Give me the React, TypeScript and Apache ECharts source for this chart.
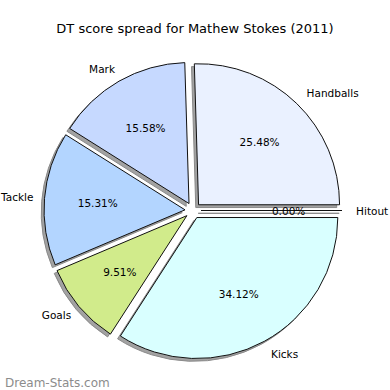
import React, { useEffect, useRef } from "react";
import * as echarts from "echarts";

const titleText = "DT score spread for Mathew Stokes (2011)";
const watermark = "Dream-Stats.com";
const categories = ["Hitout", "Handballs", "Mark", "Tackle", "Goals", "Kicks"];
const values = [0, 25.48, 15.58, 15.31, 9.51, 34.12];
const colors = ["#ffffff", "#eaf1ff", "#c6d9ff", "#b3d5ff", "#d1eb8b", "#d9ffff"];

const FONT = "DejaVu Sans";
const CX = 193;
const CY = 210.5;
const R = 141;
const EXPLODE = 8;

export default function App() {
  const ref = useRef<HTMLDivElement>(null);
  useEffect(() => {
    const chart = echarts.init(ref.current!, null, { renderer: "svg" });
    let acc = 0;
    const leftSide = values.map((v) => {
      const mid = ((acc + v / 2) / 100) * 2 * Math.PI;
      acc += v;
      return Math.cos(mid) < 0;
    });
    const shadowData = categories.map((name, i) => ({
      name,
      value: values[i],
      selected: true,
      itemStyle: { color: "#a2a2a2", borderColor: "#8a8a8a", borderWidth: 1 },
      select: { itemStyle: { color: "#a2a2a2", borderColor: "#8a8a8a", borderWidth: 1 } },
    }));
    const mainData = categories.map((name, i) => ({
      name,
      value: values[i],
      selected: true,
      label: { distanceToLabelLine: leftSide[i] ? -3 : 0 },
      itemStyle: { color: colors[i], borderColor: "#111", borderWidth: 1 },
      select: { itemStyle: { color: colors[i], borderColor: "#111", borderWidth: 1 } },
    }));
    const pctData = categories.map((name, i) => ({
      name,
      value: values[i],
      selected: true,
      itemStyle: { color: "rgba(0,0,0,0)", borderWidth: 0 },
      select: { itemStyle: { color: "rgba(0,0,0,0)", borderWidth: 0 } },
    }));
    const common = {
      type: "pie" as const,
      startAngle: 0,
      clockwise: false,
      selectedMode: "multiple" as const,
      selectedOffset: EXPLODE,
      avoidLabelOverlap: false,
      silent: true,
      emphasis: { disabled: true },
    };
    chart.setOption({
      animation: false,
      title: [
        {
          text: titleText,
          left: "center",
          top: 17,
          textStyle: { fontFamily: FONT, fontSize: 13, fontWeight: "normal", color: "#000" },
        },
        {
          text: watermark,
          left: 0,
          top: 372,
          textStyle: { fontFamily: FONT, fontSize: 12, fontWeight: "normal", color: "#8c8c8c" },
        },
      ],
      series: [
        {
          ...common,
          center: [CX - 2.8, CY + 2.8],
          radius: [0, R],
          data: shadowData,
          label: { show: false },
          labelLine: { show: false },
        },
        {
          ...common,
          center: [CX, CY],
          radius: [0, R],
          data: mainData,
          label: {
            show: true,
            position: "outside",
            fontFamily: FONT,
            fontSize: 10.5,
            color: "#000",
            distanceToLabelLine: 0,
            formatter: "{b}",
          },
          labelLine: { show: false, length: 0.1 * R, length2: 0 },
        },
        {
          ...common,
          center: [CX, CY],
          radius: [0, 1.2 * R],
          data: pctData,
          label: {
            show: true,
            position: "inside",
            fontFamily: FONT,
            fontSize: 10.5,
            color: "#000",
            formatter: (p: any) => p.value.toFixed(2) + "%",
          },
          labelLine: { show: false },
        },
      ],
    });
    return () => chart.dispose();
  }, []);
  return (
    <div
      ref={ref}
      style={{ position: "fixed", left: 0, top: 0, width: 390, height: 390, background: "#fff" }}
    />
  );
}
